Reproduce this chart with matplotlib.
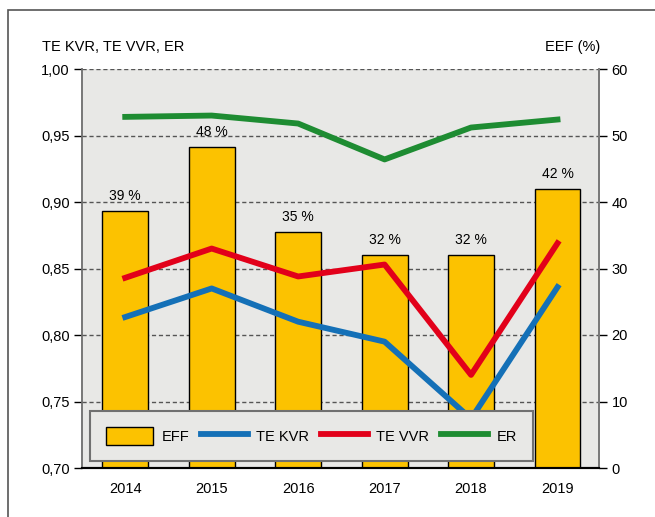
import matplotlib.pyplot as plt
from matplotlib.patches import Rectangle

plt.rcParams['font.family'] = ['Liberation Sans', 'DejaVu Sans']

years = ['2014', '2015', '2016', '2017', '2018', '2019']
eef = [38.7, 48.3, 35.5, 32.0, 32.0, 42.0]
eef_labels = ['39 %', '48 %', '35 %', '32 %', '32 %', '42 %']
te_kvr = [0.8135, 0.835, 0.810, 0.795, 0.737, 0.836]
te_vvr = [0.843, 0.865, 0.844, 0.853, 0.770, 0.869]
er = [0.964, 0.965, 0.959, 0.932, 0.956, 0.962]

c_bar = '#fcc200'
c_kvr = '#1470b7'
c_vvr = '#e2001a'
c_er = '#1e8c32'
bg = '#e8e8e6'

fig = plt.figure(figsize=(6.55, 5.17), dpi=100)
# outer frame
fig.patches.append(Rectangle((8 / 655, -0.05), 1.2, 1 - 10 / 517 + 0.05,
                             transform=fig.transFigure, fill=False,
                             edgecolor='#555555', lw=1.2))

ax2 = fig.add_axes([82 / 655, 1 - 468 / 517, 517 / 655, 399 / 517])
ax = ax2.twinx()
ax2.yaxis.tick_right()
ax2.yaxis.set_label_position('right')
ax.yaxis.tick_left()

x = range(len(years))
ax2.set_facecolor(bg)
bars = ax2.bar(x, eef, width=0.53, color=c_bar, edgecolor='black', lw=1, zorder=2)
for i, lab in enumerate(eef_labels):
    ax2.text(i, eef[i] + 1.2, lab, ha='center', va='bottom', fontsize=10)
ax2.set_ylim(0, 60)
ax2.set_yticks(range(0, 61, 10))
ax2.grid(axis='y', ls=(0, (3, 2)), color='#555555', lw=1, zorder=0)
ax2.set_axisbelow(True)
ax2.set_xlim(-0.5, 5.48)
ax2.set_xticks(list(x))
ax2.set_xticklabels(years)

ax.set_zorder(ax2.get_zorder() + 1)
ax.patch.set_visible(False)
l1, = ax.plot(x, te_kvr, color=c_kvr, lw=4.2)
l2, = ax.plot(x, te_vvr, color=c_vvr, lw=4.2)
l3, = ax.plot(x, er, color=c_er, lw=4.2)
ax.set_ylim(0.70, 1.00)
ax.set_yticks([0.70, 0.75, 0.80, 0.85, 0.90, 0.95, 1.00])
ax.set_yticklabels(['0,70', '0,75', '0,80', '0,85', '0,90', '0,95', '1,00'])

for a in (ax, ax2):
    a.spines['top'].set_visible(False)
    a.spines['left'].set_color('#777777')
    a.spines['right'].set_color('#777777')
    a.spines['left'].set_linewidth(1.2)
    a.spines['right'].set_linewidth(1.2)
    a.spines['bottom'].set_linewidth(1.5)
    a.tick_params(axis='y', length=6, width=1, labelsize=10.5, pad=3)
    a.tick_params(axis='x', length=0, labelsize=10.5, pad=10)

leg = ax.legend([bars, l1, l2, l3], ['EFF', 'TE KVR', 'TE VVR', 'ER'],
                loc='lower left', bbox_to_anchor=(0.0155, 0.0175),
                ncol=4, fontsize=10.5, frameon=True, fancybox=False,
                facecolor=bg, edgecolor='#707070', framealpha=1,
                handlelength=3.2, handleheight=1.5, borderaxespad=0,
                borderpad=1.1, columnspacing=0.8, handletextpad=0.6)
leg.get_frame().set_linewidth(1.5)

fig.text(42 / 655, 1 - 47 / 517, 'TE KVR, TE VVR, ER', ha='left', va='center', fontsize=10.5)
fig.text(600 / 655, 1 - 47 / 517, 'EEF (%)', ha='right', va='center', fontsize=10.5)

fig.savefig('out.png', dpi=100)
